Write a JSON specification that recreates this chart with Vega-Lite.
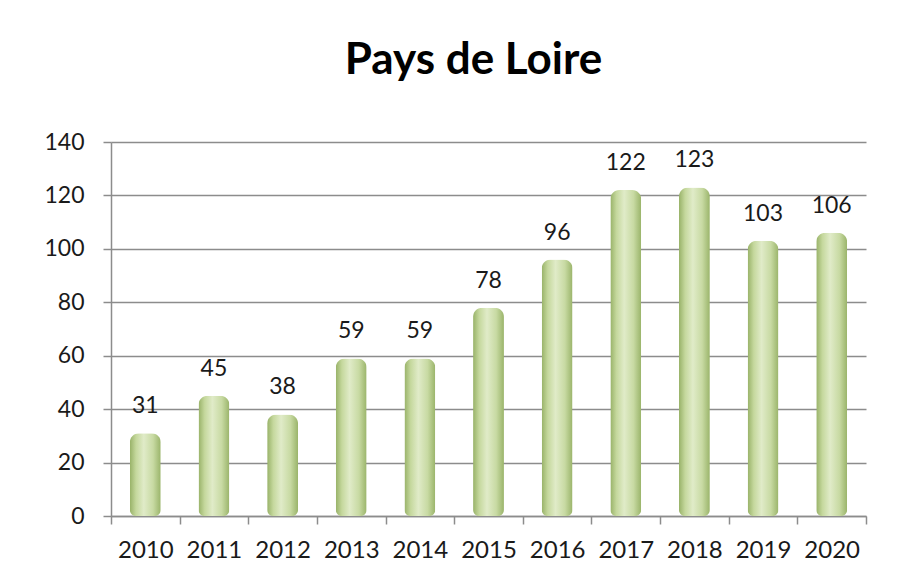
{
  "$schema": "https://vega.github.io/schema/vega-lite/v6.json",
  "width": 755,
  "height": 374,
  "autosize": {"type": "none"},
  "padding": {"left": 111, "top": 142, "right": 58, "bottom": 62},
  "background": "white",
  "title": {
    "text": "Pays de Loire",
    "font": "Lato",
    "fontSize": 44,
    "fontWeight": "bold",
    "color": "#000000",
    "anchor": "middle",
    "dx": -15,
    "offset": 48
  },
  "data": {
    "values": [
      {"year": "2010", "value": 31},
      {"year": "2011", "value": 45},
      {"year": "2012", "value": 38},
      {"year": "2013", "value": 59},
      {"year": "2014", "value": 59},
      {"year": "2015", "value": 78},
      {"year": "2016", "value": 96},
      {"year": "2017", "value": 122},
      {"year": "2018", "value": 123},
      {"year": "2019", "value": 103},
      {"year": "2020", "value": 106}
    ]
  },
  "encoding": {
    "x": {
      "field": "year",
      "type": "ordinal",
      "sort": null,
      "scale": {"paddingInner": 0, "paddingOuter": 0},
      "axis": {
        "title": null,
        "labelAngle": 0,
        "labelFont": "Lato",
        "labelFontSize": 24,
        "labelColor": "#1a1a1a",
        "labelPadding": 14,
        "domainColor": "#8c8c8c",
        "domainWidth": 1.5,
        "tickColor": "#8c8c8c",
        "tickWidth": 1.5,
        "tickSize": 8,
        "tickBand": "extent",
        "grid": false
      }
    },
    "y": {
      "field": "value",
      "type": "quantitative",
      "scale": {"domain": [0, 140], "nice": false},
      "axis": {
        "title": null,
        "values": [0, 20, 40, 60, 80, 100, 120, 140],
        "labelFont": "Lato",
        "labelFontSize": 23,
        "labelColor": "#1a1a1a",
        "labelPadding": 19,
        "domainColor": "#8c8c8c",
        "domainWidth": 1.5,
        "tickColor": "#8c8c8c",
        "tickWidth": 1.5,
        "tickSize": 8,
        "grid": true,
        "gridColor": "#8c8c8c",
        "gridWidth": 1.5
      }
    }
  },
  "layer": [
    {
      "mark": {
        "type": "bar",
        "width": {"band": 0.45},
        "cornerRadiusTopLeft": 9,
        "cornerRadiusTopRight": 9,
        "cornerRadiusBottomLeft": 6,
        "cornerRadiusBottomRight": 6,
        "color": {
          "gradient": "linear",
          "x1": 0, "y1": 0, "x2": 1, "y2": 0,
          "stops": [
            {"offset": 0, "color": "#98b268"},
            {"offset": 0.2, "color": "#c5d89d"},
            {"offset": 0.45, "color": "#e0ebc8"},
            {"offset": 0.75, "color": "#c8daa3"},
            {"offset": 1, "color": "#9ab46a"}
          ]
        }
      }
    },
    {
      "mark": {
        "type": "text",
        "baseline": "bottom",
        "dy": -15,
        "font": "Lato",
        "fontSize": 23,
        "color": "#1a1a1a"
      },
      "encoding": {
        "text": {"field": "value", "type": "quantitative"}
      }
    }
  ],
  "config": {
    "view": {"stroke": null}
  }
}
